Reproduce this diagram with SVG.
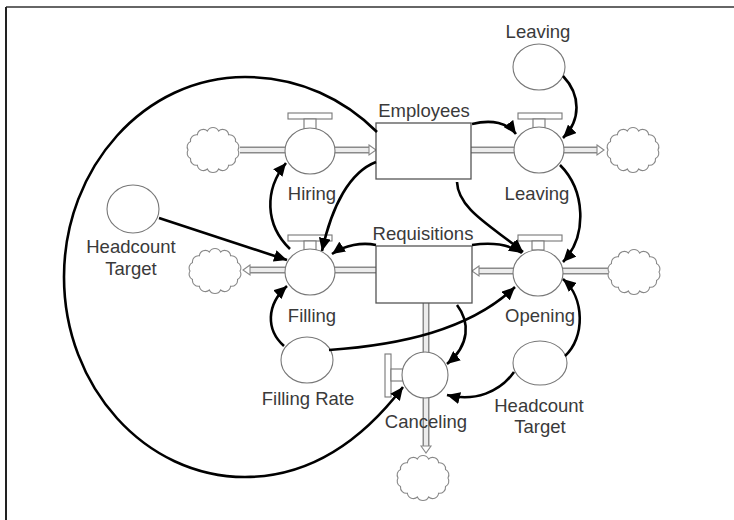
<svg xmlns="http://www.w3.org/2000/svg" xmlns:xlink="http://www.w3.org/1999/xlink" width="734" height="520" viewBox="0 0 734 520">
<style>
  text { font-family: "Liberation Sans", Arial, sans-serif; font-size: 18.5px; fill: #3a3a3a; text-anchor: middle; }
  .frameT { stroke: #666; stroke-width: 2; }
  .frameL { stroke: #222; stroke-width: 2; }
  .box { fill: #fff; stroke: #555; stroke-width: 1.3; }
  .aux { fill: #fff; stroke: #777; stroke-width: 1.1; }
  .valve { fill: #fff; stroke: #777; stroke-width: 1.1; }
  .cloud { fill: #fff; stroke: #888; stroke-width: 1.1; }
  .pipeO { fill: none; stroke: #8a8a8a; stroke-width: 7; }
  .pipeI { fill: none; stroke: #ececec; stroke-width: 4; }
  .pipeHead { fill: #fff; stroke: #888; stroke-width: 1.1; }
  .link { fill: none; stroke: #000; stroke-width: 2.6; marker-end: url(#ah); }
</style>
<defs>
  <marker id="ah" markerUnits="userSpaceOnUse" markerWidth="14" markerHeight="12" refX="13" refY="6" orient="auto">
    <path d="M0,0 L13,6 L0,12 Z" fill="#000"/>
  </marker>
  <path id="cloud" class="cloud" d="M25,0 A6,6 0 0 1 22.5,8.5 A6,6 0 0 1 15.6,15.2 A6,6 0 0 1 5.6,19 A6.2,6.2 0 0 1 -5.6,19 A6,6 0 0 1 -15.6,15.2 A6,6 0 0 1 -22.5,8.5 A6,6 0 0 1 -25,0 A6,6 0 0 1 -22.5,-8.5 A6,6 0 0 1 -15.6,-15.2 A6,6 0 0 1 -5.6,-19 A6.2,6.2 0 0 1 5.6,-19 A6,6 0 0 1 15.6,-15.2 A6,6 0 0 1 22.5,-8.5 A6,6 0 0 1 25,0 Z"/>
</defs>

<rect x="0" y="0" width="734" height="520" fill="#fff"/>
<line class="frameT" x1="6" y1="7" x2="734" y2="7"/>
<line class="frameL" x1="6" y1="7" x2="6" y2="520"/>

<g id="flows">
  <!-- Hiring flow -->
  <path class="pipeO" d="M240,150 H286 M334,150 H370"/>
  <path class="pipeI" d="M240,150 H286 M334,150 H370"/>
  <polygon class="pipeHead" points="369,145 376,150 369,155"/>
  <!-- Leaving flow -->
  <path class="pipeO" d="M471,150 H515 M563,150 H598"/>
  <path class="pipeI" d="M471,150 H515 M563,150 H598"/>
  <polygon class="pipeHead" points="597,145 604,150 597,155"/>
  <!-- Filling flow -->
  <path class="pipeO" d="M376,270 H333 M286,270 H249"/>
  <path class="pipeI" d="M376,270 H333 M286,270 H249"/>
  <polygon class="pipeHead" points="250,265 243,270 250,275"/>
  <!-- Opening flow -->
  <path class="pipeO" d="M608,271 H562 M514,271 H478"/>
  <path class="pipeI" d="M608,271 H562 M514,271 H478"/>
  <polygon class="pipeHead" points="479,266 472,271 479,276"/>
  <!-- Canceling flow -->
  <path class="pipeO" d="M426,303 V353 M426,397 V447"/>
  <path class="pipeI" d="M426,303 V353 M426,397 V447"/>
  <polygon class="pipeHead" points="421,446 426,453 431,446"/>
</g>

<g id="cloud-hiring"><use xlink:href="#cloud" href="#cloud" transform="translate(213,150)"/></g>
<g id="cloud-leaving"><use xlink:href="#cloud" href="#cloud" transform="translate(633,150)"/></g>
<g id="cloud-filling"><use xlink:href="#cloud" href="#cloud" transform="translate(215,271)"/></g>
<g id="cloud-opening"><use xlink:href="#cloud" href="#cloud" transform="translate(634,272)"/></g>
<g id="cloud-canceling"><use xlink:href="#cloud" href="#cloud" transform="translate(423,478)"/></g>

<g id="employees">
  <rect class="box" x="376" y="123" width="95" height="56"/>
  <text x="424" y="117">Employees</text>
</g>
<g id="requisitions">
  <rect class="box" x="376" y="246" width="96" height="57"/>
  <text x="423" y="240">Requisitions</text>
</g>

<g id="hiring">
  <rect class="valve" x="288" y="113" width="44" height="6"/>
  <rect class="valve" x="304" y="119" width="12" height="10"/>
  <ellipse class="valve" cx="310" cy="151" rx="25" ry="23"/>
  <text x="312" y="200">Hiring</text>
</g>
<g id="leaving">
  <rect class="valve" x="518" y="113" width="44" height="6"/>
  <rect class="valve" x="533" y="119" width="12" height="9"/>
  <ellipse class="valve" cx="539" cy="150" rx="25" ry="23"/>
  <text x="537" y="200">Leaving</text>
</g>
<g id="filling">
  <rect class="valve" x="288" y="235" width="44" height="6"/>
  <rect class="valve" x="304" y="241" width="12" height="9"/>
  <ellipse class="valve" cx="310" cy="272" rx="25" ry="23"/>
  <text x="312" y="322">Filling</text>
</g>
<g id="opening">
  <rect class="valve" x="518" y="235" width="44" height="6"/>
  <rect class="valve" x="532" y="241" width="12" height="9"/>
  <ellipse class="valve" cx="538" cy="273" rx="25" ry="23"/>
  <text x="540" y="322">Opening</text>
</g>
<g id="canceling">
  <rect class="valve" x="385" y="354" width="6" height="43"/>
  <rect class="valve" x="391" y="369" width="12" height="12"/>
  <ellipse class="valve" cx="425" cy="375" rx="23" ry="23"/>
  <text x="426" y="428">Canceling</text>
</g>

<g id="leaving-rate">
  <ellipse class="aux" cx="539" cy="67" rx="26" ry="23"/>
  <text x="538" y="38">Leaving</text>
</g>
<g id="headcount-target-1">
  <ellipse class="aux" cx="133" cy="209" rx="26" ry="24"/>
  <text x="131" y="253">Headcount</text>
  <text x="131" y="275">Target</text>
</g>
<g id="filling-rate">
  <ellipse class="aux" cx="307" cy="360" rx="26" ry="23"/>
  <text x="308" y="405">Filling Rate</text>
</g>
<g id="headcount-target-2">
  <ellipse class="aux" cx="540" cy="363" rx="27" ry="22"/>
  <text x="539" y="412">Headcount</text>
  <text x="540" y="433">Target</text>
</g>

<g id="connectors">
  <path class="link" d="M377,132 C345,100 300,77 245,77 C145,77 64,167 64,277 C64,387 145,477 245,477 C320,477 370,430 403,387"/>
  <path class="link" d="M472,124 C492,119 508,123 516,134"/>
  <path class="link" d="M563,76 C581,95 581,120 563,138"/>
  <path class="link" d="M560,165 C585,190 588,235 563,262"/>
  <path class="link" d="M457,182 C458,210 495,228 523,252"/>
  <path class="link" d="M376,162 C350,172 332,205 322,251"/>
  <path class="link" d="M290,249 C265,225 264,190 286,163"/>
  <path class="link" d="M159,218 L287,260"/>
  <path class="link" d="M376,245 C362,242 345,245 332,254"/>
  <path class="link" d="M472,245 C492,242 510,245 522,253"/>
  <path class="link" d="M284,346 C266,330 266,305 287,286"/>
  <path class="link" d="M329,350 C400,345 470,330 515,287"/>
  <path class="link" d="M457,305 C470,322 470,345 447,364"/>
  <path class="link" d="M565,356 C585,338 585,298 563,279"/>
  <path class="link" d="M514,372 C500,392 475,402 447,395"/>
</g>
</svg>
